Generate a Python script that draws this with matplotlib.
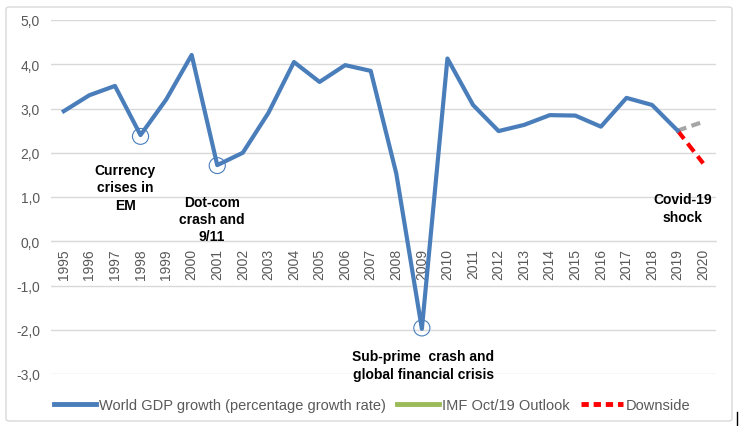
import matplotlib.pyplot as plt
from matplotlib.lines import Line2D
from matplotlib.patches import Ellipse, FancyBboxPatch

years = list(range(1995, 2021))
gdp_growth = [2.94, 3.30, 3.51, 2.40, 3.20, 4.21, 1.72, 2.00, 2.90, 4.05,
              3.60, 3.98, 3.85, 1.53, -1.98, 4.13, 3.08, 2.49, 2.63, 2.85,
              2.84, 2.59, 3.24, 3.08, 2.50]
imf_years = [2019, 2020]
imf_outlook = [2.50, 2.70]
down_years = [2019, 2020]
downside = [2.50, 1.76]

# circled crisis points: (year, value)
crises = [(1998, 2.37), (2001, 1.71), (2009, -1.96)]
notes = [
    (1997.4, 1.22, 'Currency\ncrises in\nEM'),
    (2000.8, 0.5, 'Dot-com\ncrash and\n9/11'),
    (2009.05, -2.8, 'Sub-prime  crash and\nglobal financial crisis'),
    (2019.2, 0.75, 'Covid-19\nshock'),
]

blue = '#4a7ebb'
grey_txt = '#595959'
plt.rcParams['font.family'] = ['Liberation Sans', 'DejaVu Sans']

fig = plt.figure(figsize=(7.4, 4.27), dpi=100)
fig.patches.append(FancyBboxPatch((6 / 740, 5 / 427), 726 / 740, 414 / 427,
                                  boxstyle='round,pad=0,rounding_size=0.005',
                                  transform=fig.transFigure, fill=False,
                                  edgecolor='#d9d9d9', linewidth=1))
fig.lines.append(Line2D([737 / 740, 737 / 740], [0, 14 / 427], transform=fig.transFigure,
                        color='black', linewidth=1))

ax = fig.add_axes([51 / 740, 1 - 375 / 427, 665 / 740, 354 / 427])
ax.set_xlim(1994.5, 2020.5)
ax.set_ylim(-3, 5)

ax.plot(years[:len(gdp_growth)], gdp_growth, color=blue, linewidth=3, zorder=3)
ax.plot(imf_years, imf_outlook, color='#a6a6a6', linewidth=3, linestyle=(0, (2.2, 1.3)), zorder=2)
ax.plot(down_years, downside, color='#ff0000', linewidth=3, linestyle=(0, (2.5, 1.4)), zorder=2)

for yr, val in crises:
    ax.add_patch(Ellipse((yr, val), 0.63, 0.36, fill=False, edgecolor=blue, linewidth=0.8, zorder=4))

for x, y, txt in notes:
    ax.text(x, y, txt, ha='center', va='center', fontsize=10, fontweight='bold',
            color='black', linespacing=1.3)

ax.spines['bottom'].set_position(('data', 0))
ax.spines['bottom'].set_color('#d9d9d9')
for s in ['top', 'right', 'left']:
    ax.spines[s].set_visible(False)

ax.set_yticks(range(-3, 6))
ax.set_yticklabels([f'{v},0' for v in range(-3, 6)])
ax.set_xticks(years)
ax.set_xticklabels([str(y) for y in years])
ax.grid(axis='y', color='#d9d9d9', linewidth=1)
ax.set_axisbelow(True)
ax.tick_params(axis='both', length=0, labelsize=10, labelcolor=grey_txt)
ax.tick_params(axis='y', pad=8)
ax.tick_params(axis='x', pad=5, labelrotation=90)

handles = [Line2D([], [], color=blue, linewidth=3.5),
           Line2D([], [], color='#9bbb59', linewidth=3.5),
           Line2D([], [], color='#ff0000', linewidth=3.5, linestyle=(0, (1.5, 1)))]
labels = ['World GDP growth (percentage growth rate)', 'IMF Oct/19 Outlook', 'Downside']
leg = fig.legend(handles, labels, loc='center', bbox_to_anchor=(372 / 740, 1 - 406 / 427),
                 ncol=3, frameon=False, handlelength=2.9, handletextpad=0.15,
                 columnspacing=0.8, prop={'size': 10.5})
for t in leg.get_texts():
    t.set_color(grey_txt)

fig.savefig('out.png', dpi=100)
